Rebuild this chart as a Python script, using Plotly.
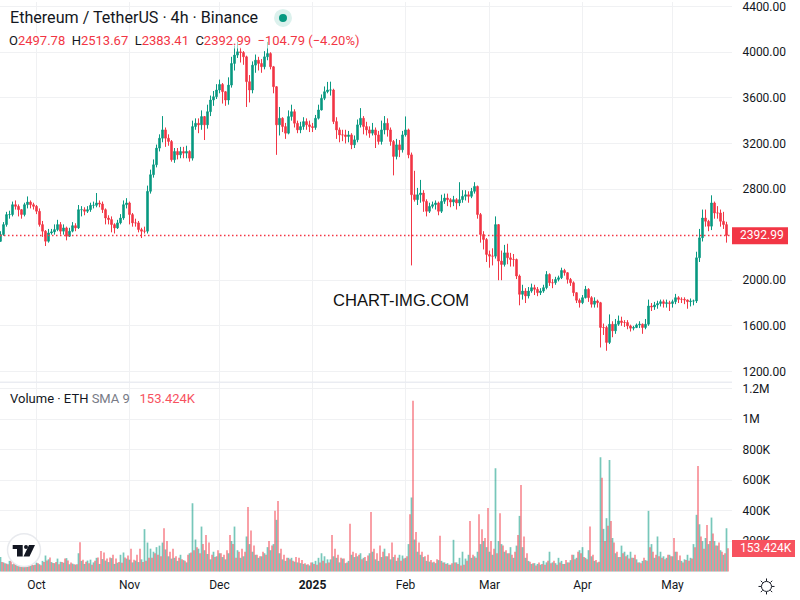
import pandas as pd
import plotly.graph_objects as go

START_DAY = "2024-09-19"
close_px = [
2401,2488,2576,2576,2663,2648,2619,2576,2663,2686,
2663,2648,2605,2488,2430,2342,2415,2424,2444,2488,
2430,2459,2386,2430,2479,2459,2619,2619,2605,2619,
2657,2657,2678,2669,2619,2546,2532,2488,2459,2503,
2546,2663,2678,2576,2503,2503,2444,2430,2430,2780,
2926,3013,3159,3246,3319,3246,3217,3057,3130,3100,
3130,3115,3130,3071,3348,3377,3363,3436,3363,3479,
3581,3610,3669,3718,3654,3581,3712,3902,3975,4004,
3998,3960,3742,3669,3887,3931,3902,3873,3960,3989,
3873,3698,3363,3421,3348,3290,3436,3479,3377,3319,
3348,3392,3363,3348,3340,3421,3494,3596,3654,3669,
3669,3392,3319,3275,3275,3261,3275,3188,3232,3363,
3421,3348,3319,3290,3319,3275,3217,3319,3377,3319,
3217,3086,3188,3144,3275,3319,3100,2750,2707,2750,
2765,2692,2605,2648,2663,2678,2605,2692,2721,2707,
2686,2707,2678,2707,2736,2750,2736,2780,2823,2576,
2401,2357,2226,2211,2211,2488,2168,2138,2240,2197,
2182,2182,2037,1876,1905,1862,1905,1935,1920,1891,
1905,1935,2051,1978,1978,2007,2022,2086,2066,2007,
1978,1891,1824,1803,1847,1920,1847,1789,1818,1803,
1585,1585,1454,1614,1556,1614,1643,1629,1629,1599,
1579,1585,1608,1614,1585,1614,1774,1766,1783,1795,
1812,1795,1803,1795,1812,1847,1832,1832,1827,1812,
1818,1818,2197,2372,2546,2517,2474,2678,2590,2590,
2517,2488,2392.99]
high_px = [
2430,2510,2600,2610,2690,2700,2665,2625,2680,2735,
2700,2680,2660,2630,2520,2440,2450,2450,2490,2530,
2510,2490,2470,2460,2510,2500,2660,2650,2640,2650,
2680,2690,2765,2700,2690,2630,2570,2560,2500,2530,
2580,2700,2720,2690,2590,2540,2520,2460,2470,2830,
2970,3060,3190,3280,3440,3340,3280,3230,3160,3160,
3170,3170,3180,3140,3400,3420,3420,3490,3440,3540,
3620,3660,3720,3760,3730,3660,3780,3960,4060,4091,
4040,4010,3970,3800,3920,3980,3960,3940,4010,4091,
4000,3880,3700,3520,3430,3380,3490,3540,3500,3400,
3390,3430,3420,3400,3380,3450,3540,3630,3700,3740,
3742,3680,3430,3340,3320,3320,3310,3290,3270,3410,
3510,3440,3390,3350,3380,3340,3310,3400,3440,3420,
3340,3230,3240,3230,3310,3437,3330,3120,2960,2810,
2880,2790,2710,2680,2690,2700,2690,2750,2760,2760,
2720,2740,2720,2860,2790,2790,2780,2810,2860,2830,
2590,2430,2370,2260,2280,2560,2490,2260,2310,2320,
2240,2230,2190,2050,1960,1930,1940,1970,1960,1940,
1930,1960,2080,2060,2010,2030,2040,2110,2100,2070,
2020,1990,1890,1840,1870,1950,1930,1860,1850,1830,
1810,1620,1600,1700,1640,1660,1690,1680,1650,1650,
1610,1600,1620,1640,1620,1660,1830,1800,1810,1820,
1830,1830,1830,1820,1830,1880,1860,1850,1850,1830,
1840,1830,2250,2450,2620,2620,2530,2745,2690,2650,
2620,2600,2513]
low_px = [
2340,2390,2470,2540,2560,2620,2560,2540,2560,2630,
2630,2620,2580,2470,2380,2300,2330,2400,2400,2430,
2400,2400,2350,2380,2420,2430,2450,2560,2570,2590,
2600,2630,2640,2640,2590,2490,2490,2420,2410,2450,
2490,2530,2630,2490,2470,2470,2420,2370,2410,2410,
2760,2900,2990,3130,3210,3170,3180,3040,3030,3060,
3070,3070,3070,3040,3050,3320,3290,3320,3230,3330,
3440,3530,3590,3640,3550,3530,3540,3690,3840,3950,
3910,3890,3520,3560,3640,3820,3840,3820,3850,3930,
3850,3640,3100,3270,3300,3240,3280,3400,3340,3290,
3290,3320,3320,3300,3300,3320,3410,3490,3580,3640,
3620,3370,3240,3210,3220,3200,3210,3150,3160,3210,
3340,3280,3270,3250,3270,3160,3190,3190,3280,3260,
3180,2920,3060,3080,3120,3260,3070,2130,2690,2660,
2680,2600,2560,2590,2630,2620,2570,2590,2670,2650,
2640,2650,2620,2650,2680,2700,2680,2720,2760,2540,
2330,2270,2160,2110,2130,2190,2000,2000,2120,2140,
2120,2120,2010,1780,1830,1800,1840,1890,1870,1860,
1870,1890,1920,1950,1930,1960,1990,2010,2040,1970,
1950,1860,1800,1760,1790,1840,1810,1760,1760,1760,
1410,1520,1381,1440,1500,1530,1600,1600,1590,1570,
1550,1560,1580,1580,1530,1570,1600,1730,1740,1750,
1770,1760,1760,1730,1760,1790,1800,1800,1790,1750,
1770,1780,1800,2160,2340,2470,2430,2440,2540,2540,
2470,2450,2330]
vol_up_k = [
95,60,52,70,48,80,45,62,75,90,
50,42,58,48,70,105,80,62,55,85,
64,58,88,48,52,46,120,70,50,72,
78,60,90,50,82,72,62,88,50,58,
110,125,85,78,60,72,62,80,278,190,
150,130,160,170,190,145,100,85,90,70,
110,75,60,120,448,210,150,295,140,115,
80,130,100,120,95,80,120,200,295,140,
90,100,230,180,130,110,90,100,120,160,
140,180,339,120,80,70,90,90,65,60,
55,50,45,40,60,70,90,120,100,80,
80,100,90,60,85,55,70,110,95,100,
120,90,70,120,130,80,70,95,150,100,
80,95,70,110,105,90,180,485,210,130,
110,95,70,65,60,55,75,70,60,55,
45,208,60,90,130,85,110,90,100,130,
180,200,160,130,110,678,200,180,130,120,
160,90,170,365,160,90,70,50,55,50,
45,70,60,130,60,55,90,70,50,60,
75,110,90,140,160,90,140,100,70,60,
750,280,350,732,220,120,95,170,130,110,
130,90,80,60,70,75,398,180,90,230,
130,100,90,110,100,130,75,70,80,110,
90,180,372,310,200,220,180,354,200,170,
140,110,284]
vol_down_k = [
62,55,48,72,68,55,45,48,60,80,
70,45,55,42,62,72,92,56,62,48,
62,85,72,60,48,48,192,78,65,55,
45,70,92,135,125,85,92,110,85,62,
58,92,105,150,78,110,150,62,70,90,
90,120,110,100,284,200,130,150,100,90,
80,70,110,125,140,160,120,180,240,190,
110,95,140,120,110,140,240,180,90,130,
150,130,424,269,170,110,100,130,110,200,
170,398,463,150,110,90,80,70,95,90,
75,55,48,60,50,45,60,70,55,60,
240,150,110,90,85,60,313,130,120,110,
80,95,105,391,150,120,170,130,100,120,
190,110,90,70,85,100,376,1121,260,190,
130,100,110,75,65,80,234,60,50,45,
55,60,50,40,45,70,332,110,90,376,
278,220,417,200,150,120,382,170,140,120,
110,130,240,568,230,120,65,55,40,60,
50,45,70,55,70,45,60,50,75,60,
110,80,130,120,95,80,295,110,75,65,
616,200,300,332,190,130,95,120,100,85,
90,110,60,55,90,70,160,130,110,100,
90,80,110,100,220,130,105,60,75,70,
85,160,693,230,150,305,200,250,170,190,
130,120,153]
price_ticks = [1200, 1600, 2000, 2800, 3200, 3600, 4000, 4400]
price_labels = ["1200.00", "1600.00", "2000.00", "2800.00", "3200.00", "3600.00", "4000.00", "4400.00"]
vol_ticks = [200000, 400000, 600000, 800000, 1000000, 1200000]
vol_labels = ["200K", "400K", "600K", "800K", "1M", "1.2M"]
month_ticks = ["2024-10-01", "2024-11-01", "2024-12-01", "2025-01-01", "2025-02-01", "2025-03-01", "2025-04-01", "2025-05-01"]
month_labels = ["Oct", "Nov", "Dec", "<b>2025</b>", "Feb", "Mar", "Apr", "May"]
LAST_PRICE = 2392.99

UP, DOWN = "#089981", "#F23645"
GRID = "#F0F1F3"
FONT = "Roboto"
TXT = "#131722"
PW, PH = 732, 572


def px(x):
    return x / PW


def py(y):
    return (PH - y) / PH


days = pd.date_range(START_DAY, periods=len(close_px), freq="D")
open_px = [close_px[0] - 60] + close_px[:-1]

fig = go.Figure()
fig.add_trace(go.Bar(x=days, y=[v * 1000 for v in vol_up_k], width=50000000,
                     marker=dict(color="rgba(8,153,129,0.55)", line_width=0),
                     xaxis="x2", yaxis="y2", hoverinfo="skip", showlegend=False))
fig.add_trace(go.Bar(x=days + pd.Timedelta(hours=12), y=[v * 1000 for v in vol_down_k], width=50000000,
                     marker=dict(color="rgba(242,54,69,0.55)", line_width=0),
                     xaxis="x2", yaxis="y2", hoverinfo="skip", showlegend=False))
fig.add_trace(go.Candlestick(
    x=days, open=open_px, high=high_px, low=low_px, close=close_px,
    increasing=dict(line=dict(color=UP, width=1), fillcolor=UP),
    decreasing=dict(line=dict(color=DOWN, width=1), fillcolor=DOWN),
    whiskerwidth=0, xaxis="x", yaxis="y", hoverinfo="skip", showlegend=False))

x_range = ["2024-09-18 20:00", "2025-05-20 20:00"]
x_common = dict(range=x_range, type="date", tickmode="array", tickvals=month_ticks, ticktext=month_labels,
                showgrid=True, gridcolor=GRID, gridwidth=1, zeroline=False, showline=False,
                rangeslider=dict(visible=False))

shapes = [
    dict(type="line", xref="paper", yref="y", x0=0, x1=1, y0=LAST_PRICE, y1=LAST_PRICE,
         line=dict(color=DOWN, width=1.5, dash="1.5px,2.5px")),
    dict(type="line", xref="paper", yref="paper", x0=0, x1=1, y0=py(381.5), y1=py(381.5),
         line=dict(color="#E0E3EB", width=1)),
    # last-value boxes
    dict(type="rect", xref="paper", yref="paper", x0=px(732), x1=px(788), y0=py(243), y1=py(226),
         fillcolor=DOWN, line_width=0),
    dict(type="rect", xref="paper", yref="paper", x0=px(732), x1=px(795), y0=py(557), y1=py(540),
         fillcolor="#F7525F", line_width=0),
    # status dot
    dict(type="circle", xref="paper", yref="paper", x0=px(274), x1=px(292), y0=py(25), y1=py(7),
         fillcolor="rgba(8,153,129,0.14)", line_width=0),
    dict(type="circle", xref="paper", yref="paper", x0=px(279), x1=px(287), y0=py(20), y1=py(12),
         fillcolor=UP, line_width=0),
    # logo
    dict(type="circle", xref="paper", yref="paper", x0=px(7.5), x1=px(40.5), y0=py(566.5), y1=py(533.5),
         fillcolor="white", line=dict(color="#E8EAEE", width=1.5)),
    dict(type="path", xref="paper", yref="paper", fillcolor="#131722", line_width=0,
         path=f"M {px(12.7)} {py(545)} L {px(22.7)} {py(545)} L {px(22.7)} {py(556.5)} L {px(17)} {py(556.5)} "
              f"L {px(17)} {py(549)} L {px(12.7)} {py(549)} Z"),
    dict(type="circle", xref="paper", yref="paper", x0=px(24), x1=px(28), y0=py(549), y1=py(545),
         fillcolor="#131722", line_width=0),
    dict(type="path", xref="paper", yref="paper", fillcolor="#131722", line_width=0,
         path=f"M {px(29)} {py(545)} L {px(35)} {py(545)} L {px(29.5)} {py(556.5)} L {px(23.5)} {py(556.5)} Z"),
    # sun icon
    dict(type="circle", xref="paper", yref="paper", x0=px(761.5), x1=px(771.5), y0=py(591.5), y1=py(581.5),
         line=dict(color=TXT, width=1), fillcolor="white"),
    dict(type="path", xref="paper", yref="paper", line=dict(color=TXT, width=1),
         path=f"M {px(766.5)} {py(578.5)} L {px(766.5)} {py(581)} M {px(766.5)} {py(592)} L {px(766.5)} {py(594.5)} "
              f"M {px(758.5)} {py(586.5)} L {px(761)} {py(586.5)} M {px(772)} {py(586.5)} L {px(774.5)} {py(586.5)} "
              f"M {px(760.8)} {py(580.8)} L {px(762.6)} {py(582.6)} M {px(770.4)} {py(590.4)} L {px(772.2)} {py(592.2)} "
              f"M {px(772.2)} {py(580.8)} L {px(770.4)} {py(582.6)} M {px(762.6)} {py(590.4)} L {px(760.8)} {py(592.2)}"),
]


def note(text, x, y, size, color=TXT, bg=None, xanchor="left", family=FONT, pad=0):
    return dict(text=text, x=px(x), y=py(y), xref="paper", yref="paper", xanchor=xanchor, yanchor="middle",
                showarrow=False, font=dict(family=family, size=size, color=color), bgcolor=bg, borderpad=pad)


def red(t):
    return f'<span style="color:{DOWN}">{t}</span>'


header = ("O" + red("2497.78") + "\u00a0 H" + red("2513.67") + "\u00a0 L" + red("2383.41") + "\u00a0 C" + red("2392.99")
          + "\u00a0 " + red("\u2212104.79 (\u22124.20%)"))
annotations = [
    note("Ethereum / TetherUS \u00b7 4h \u00b7 Binance", 8.5, 16, 16.1),
    note(header, 7.5, 39, 13, bg="rgba(255,255,255,0.6)"),
    note('Volume \u00b7 ETH <span style="color:#787B86">SMA 9</span>\u00a0\u00a0 <span style="color:#F7525F">153.424K</span>',
         8.5, 398, 13),
    note("CHART-IMG.COM", 332, 300, 16.6, color="#111111", family="Liberation Sans"),
    note("2392.99", 762, 234, 12, color="white", xanchor="center"),
    note("153.424K", 766, 548, 12, color="white", xanchor="center"),
]

fig.update_layout(
    width=800, height=600, margin=dict(l=0, r=68, t=0, b=28),
    paper_bgcolor="white", plot_bgcolor="white", barmode="overlay",
    font=dict(family=FONT, size=12, color=TXT), showlegend=False, dragmode=False,
    xaxis=dict(anchor="y", showticklabels=False, ticks="", **x_common),
    xaxis2=dict(anchor="y2", matches="x", ticks="outside", ticklen=2, tickcolor="rgba(0,0,0,0)",
                tickfont=dict(family=FONT, size=12, color=TXT), **x_common),
    yaxis=dict(domain=[py(381), 1], range=[1110, 4441], side="right", anchor="x", tickmode="array",
               tickvals=price_ticks, ticktext=price_labels, showgrid=True, gridcolor=GRID, zeroline=False,
               showline=False, ticks="outside", ticklen=7, tickcolor="rgba(0,0,0,0)", ticklabeloverflow="allow",
               tickfont=dict(family=FONT, size=12, color=TXT)),
    yaxis2=dict(domain=[0, py(382)], range=[-3000, 1239000], side="right", anchor="x2", tickmode="array",
                tickvals=vol_ticks, ticktext=vol_labels, showgrid=True, gridcolor=GRID, zeroline=False,
                showline=False, ticks="outside", ticklen=7, tickcolor="rgba(0,0,0,0)",
                tickfont=dict(family=FONT, size=12, color=TXT)),
    shapes=shapes, annotations=annotations,
)

fig.write_html("out.html", post_script="document.body.style.margin='0';",
               config={"displayModeBar": False})
